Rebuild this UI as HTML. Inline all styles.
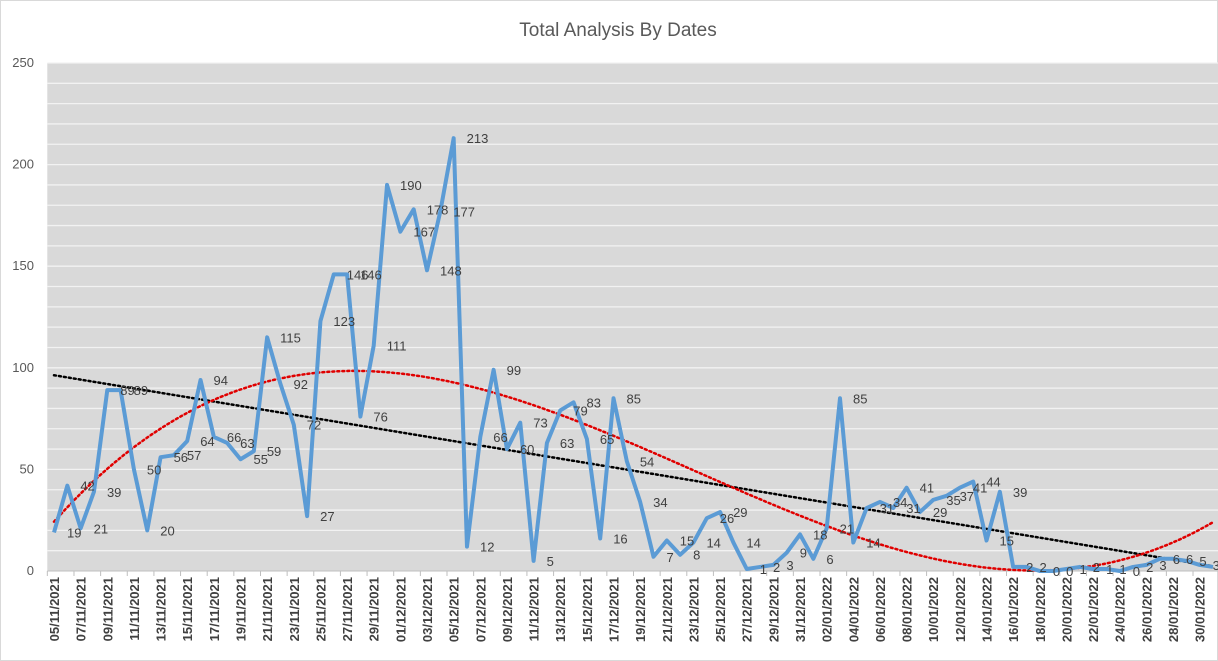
<!DOCTYPE html>
<html><head><meta charset="utf-8"><style>
body{margin:0;background:#fff;}
svg{display:block;font-family:"Liberation Sans",Arial,sans-serif;}
</style></head><body>
<svg id="chart" width="1218" height="661" viewBox="0 0 1218 661" xmlns="http://www.w3.org/2000/svg">
<rect x="0.5" y="0.5" width="1217" height="660" fill="#fff" stroke="#d9d9d9"/>
<text x="618" y="36" text-anchor="middle" font-size="19" fill="#595959">Total Analysis By Dates</text>
<g id="grid"></g><g id="axes"></g><g id="trends"></g><g id="series"></g><g id="labels"></g>
</svg>
<script>
const values=[19,42,21,39,89,89,50,20,56,57,64,94,66,63,55,59,115,92,72,27,123,146,146,76,111,190,167,178,148,177,213,12,66,99,60,73,5,63,79,83,65,16,85,54,34,7,15,8,14,26,29,14,1,2,3,9,18,6,21,85,14,31,34,31,41,29,35,37,41,44,15,39,2,2,0,0,1,2,1,1,0,2,3,6,6,5,3,2];
const startDate=[2021,10,5];
const yTicks=[0,50,100,150,200,250];
const NS="http://www.w3.org/2000/svg";
const L=47.3,R=1218,T=63,B=571,yMax=250;
const step=(1213-54)/87;
const xs=i=>54+i*step;
const ys=v=>B-(v/yMax)*(B-T);
function mk(tag,attrs,parent){const e=document.createElementNS(NS,tag);for(const k in attrs)e.setAttribute(k,attrs[k]);parent.appendChild(e);return e;}
const grid=document.getElementById('grid'),axes=document.getElementById('axes'),trends=document.getElementById('trends'),series=document.getElementById('series'),labels=document.getElementById('labels');
const bg=mk('rect',{x:L,y:T,width:R-L,height:B-T,fill:'#d9d9d9'},grid);


for(let v=10;v<=yMax;v+=10){const l=mk('line',{x1:L,x2:R,y1:ys(v),y2:ys(v),stroke:'#f2f2f2','stroke-width':1.3},grid);

}
yTicks.forEach(v=>{const t=mk('text',{x:34,y:ys(v)+4,'text-anchor':'end','font-size':13,fill:'#595959'},axes);t.textContent=v;

});
mk('line',{x1:L,x2:R,y1:B,y2:B,stroke:'#bfbfbf'},axes);
const mon=m=>String(m).padStart(2,'0');
values.forEach((v,i)=>{
  const d=new Date(startDate[0],startDate[1],startDate[2]+i);
  if(i%2===0){
    const tx=xs(i)-step/2;
    mk('line',{x1:tx,x2:tx,y1:B,y2:B+5,stroke:'#bfbfbf'},axes);
    const s=mon(d.getDate())+'/'+mon(d.getMonth()+1)+'/'+d.getFullYear();
    const t=mk('text',{transform:`translate(${xs(i)+5},${B+6}) rotate(-90)`,'text-anchor':'end','font-size':13,'font-weight':'bold',fill:'#404040'},axes);
    t.textContent=s;
    
    
  }
});
// linear trend
const n=values.length;
let sx=0,sy=0,sxx=0,sxy=0;
values.forEach((v,i)=>{sx+=i;sy+=v;sxx+=i*i;sxy+=i*v;});
const b=(n*sxy-sx*sy)/(n*sxx-sx*sx),a=(sy-b*sx)/n;
const lin=mk('line',{x1:xs(0),y1:ys(a),x2:xs(n-1),y2:ys(a+b*(n-1)),stroke:'#000','stroke-width':2.5,'stroke-dasharray':'2 3','stroke-linecap':'round'},trends);


// cubic trend
const c=(n-1)/2,sc=c;
const M=[[0,0,0,0],[0,0,0,0],[0,0,0,0],[0,0,0,0]],V=[0,0,0,0];
values.forEach((v,i)=>{const t=(i-c)/sc;for(let r=0;r<4;r++){V[r]+=v*t**r;for(let k=0;k<4;k++)M[r][k]+=t**(r+k);}});
for(let p=0;p<4;p++){for(let r=p+1;r<4;r++){const f=M[r][p]/M[p][p];for(let k=p;k<4;k++)M[r][k]-=f*M[p][k];V[r]-=f*V[p];}}
const co=[0,0,0,0];for(let r=3;r>=0;r--){let s=V[r];for(let k=r+1;k<4;k++)s-=M[r][k]*co[k];co[r]=s/M[r][r];}
let pd='';for(let i=0;i<=n-1;i+=0.25){const t=(i-c)/sc;const v=co[0]+co[1]*t+co[2]*t*t+co[3]*t**3;pd+=(pd?'L':'M')+xs(i).toFixed(1)+','+ys(v).toFixed(1);}
const poly=mk('path',{d:pd,fill:'none',stroke:'#e00000','stroke-width':2.5,'stroke-dasharray':'2 3','stroke-linecap':'round'},trends);


// series
const line=mk('polyline',{points:values.map((v,i)=>xs(i)+','+ys(v)).join(' '),fill:'none',stroke:'#5b9bd5','stroke-width':4,'stroke-linejoin':'round'},series);


values.forEach((v,i)=>{const t=mk('text',{x:xs(i)+13,y:ys(v)+5,'font-size':13,fill:'#404040'},labels);t.textContent=v;

});
</script>
</body></html>
